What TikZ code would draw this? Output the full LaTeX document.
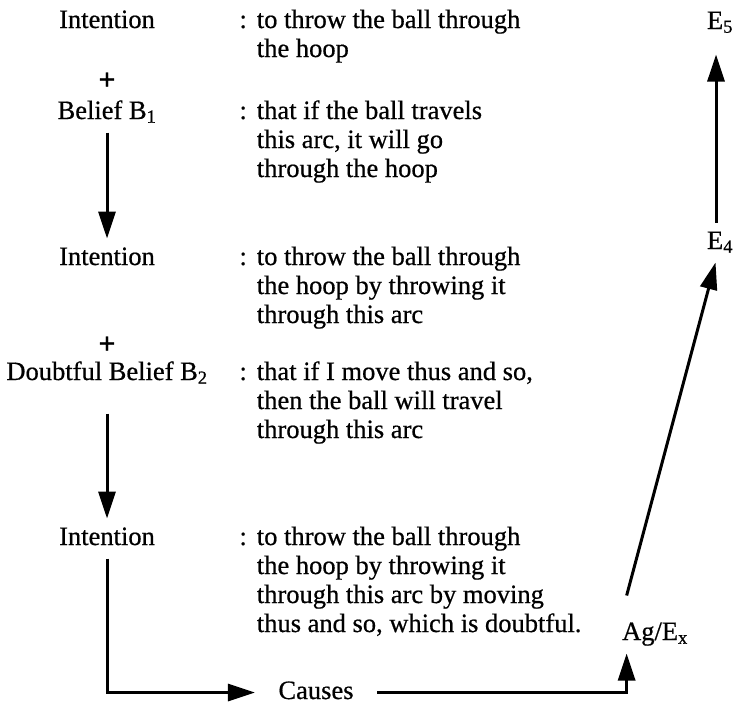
\documentclass[tikz,border=0pt]{standalone}
\usepackage{fontspec}
\setmainfont{Liberation Serif}[FakeBold=0.6]
\usetikzlibrary{arrows.meta}
\tikzset{x=1pt,y=-1pt}
% colon, then the indented lines of the gloss
\newcommand{\gloss}[1]{\begin{tabular}[t]{@{}l@{\hspace{10pt}}l@{}}:&#1\end{tabular}}

\begin{document}
\begin{tikzpicture}[every node/.style={font=\fontsize{26.5}{29}\selectfont, inner sep=0pt},
  stage/.style={anchor=base, text height=18pt, text depth=5pt, inner ysep=7pt},
  glossbox/.style={anchor=base west},
  plus/.style={font=\fontsize{30}{30}\selectfont\bfseries},
  >={Triangle[length=27pt,width=17pt]}, line width=3pt]
\useasboundingbox (0,0) rectangle (735,707);
    % left column
    \node[stage] (i1) at (107,28) {Intention};
    \node[plus] (plus1) at (107,81) {+};
    \node[stage] (b1) at (107,119) {Belief B\textsubscript{1}};
    \node[stage] (i2) at (107,265) {Intention};
    \node[plus] (plus2) at (107,345) {+};
    \node[stage] (db) at (107,380) {Doubtful Belief B\textsubscript{2}};
    \node[stage] (i3) at (107,545) {Intention};
    % glosses
    \node[glossbox] (g1) at (238,28) {\gloss{to throw the ball through\\ & the hoop}};
    \node[glossbox] (g2) at (238,119) {\gloss{that if the ball travels\\ & this arc, it will go\\ & through the hoop}};
    \node[glossbox] (g3) at (238,265) {\gloss{to throw the ball through\\ & the hoop by throwing it\\ & through this arc}};
    \node[glossbox] (g4) at (238,380) {\gloss{that if I move thus and so,\\ & then the ball will travel\\ & through this arc}};
    \node[glossbox] (g5) at (238,545) {\gloss{to throw the ball through\\ & the hoop by throwing it\\ & through this arc by moving\\ & thus and so, which is doubtful.}};
    % bottom and right
    \node[stage, inner xsep=22pt] (causes) at (316,699) {Causes};
    \node[stage] (agex) at (655,640) {Ag/E\textsubscript{x}};
    \node[stage] (e4) at (720,249) {E\textsubscript{4}};
    \node[stage] (e5) at (720,29) {E\textsubscript{5}};

    \draw[->] (b1) -- (i2);
    \draw[->, shorten <=20pt] (db) -- (i3);
    \draw[->] (i3) |- (causes);
    \draw[->] (causes) -| ([xshift=6pt]agex.south west);
    \draw[->] ([shift={(6pt,18pt)}]agex.north west) -- ([xshift=10pt]e4.south west);
    \draw[->, shorten >=12pt] ([xshift=-4pt]e4.north) -- ([xshift=-4pt]e5.south);
\end{tikzpicture}
\end{document}
